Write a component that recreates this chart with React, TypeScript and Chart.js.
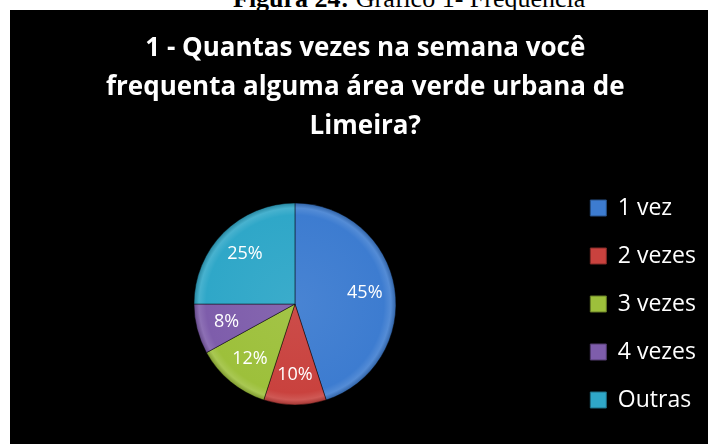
import React, { useEffect, useRef } from "react";
import { Chart, registerables } from "chart.js";

Chart.register(...registerables);

const titleLines = [
  "1 - Quantas vezes na semana você",
  "frequenta alguma área verde urbana de",
  "Limeira?",
];
const categories = ["1 vez", "2 vezes", "3 vezes", "4 vezes", "Outras"];
const values = [45, 10, 12, 8, 25];
const colors = ["#3d7cd0", "#c9423e", "#9dc03b", "#7e5dab", "#2fa7c8"];

function shade(hex: string, amt: number) {
  const n = parseInt(hex.slice(1), 16);
  let r = (n >> 16) & 255, g = (n >> 8) & 255, b = n & 255;
  const t = amt < 0 ? 0 : 255;
  const p = Math.abs(amt);
  r = Math.round(r + (t - r) * p);
  g = Math.round(g + (t - g) * p);
  b = Math.round(b + (t - b) * p);
  return `rgb(${r},${g},${b})`;
}

const pieLabels = {
  id: "pieLabels",
  afterDatasetsDraw(chart: any) {
    const ctx = chart.ctx;
    const meta = chart.getDatasetMeta(0);
    const data = chart.data.datasets[0].data as number[];
    const total = data.reduce((a, b) => a + b, 0);
    ctx.save();
    ctx.fillStyle = "#ffffff";
    ctx.font = "18px 'Open Sans'";
    ctx.textAlign = "center";
    ctx.textBaseline = "middle";
    meta.data.forEach((arc: any, i: number) => {
      const { x, y, startAngle, endAngle, outerRadius } = arc.getProps(
        ["x", "y", "startAngle", "endAngle", "outerRadius"],
        true
      );
      const mid = (startAngle + endAngle) / 2;
      const r = outerRadius * 0.7;
      const pct = Math.round((data[i] / total) * 100) + "%";
      ctx.fillText(pct, x + Math.cos(mid) * r, y + Math.sin(mid) * r);
    });
    ctx.restore();
  },
};

export default function App() {
  const ref = useRef<HTMLCanvasElement | null>(null);
  useEffect(() => {
    if (!ref.current) return;
    const chart = new Chart(ref.current, {
      type: "pie",
      data: {
        labels: categories,
        datasets: [
          {
            data: values,
            radius: 101,
            backgroundColor: (c: any) => {
              const base = colors[c.dataIndex % colors.length];
              const area = c.chart.chartArea;
              if (!area) return base;
              const cx = (area.left + area.right) / 2;
              const cy = (area.top + area.bottom) / 2;
              const g = c.chart.ctx.createRadialGradient(cx, cy, 0, cx, cy, 101);
              g.addColorStop(0, shade(base, 0.06));
              g.addColorStop(0.88, base);
              g.addColorStop(0.95, shade(base, 0.12));
              g.addColorStop(1, shade(base, -0.2));
              return g;
            },
            borderColor: "rgba(0,0,0,0.45)",
            borderWidth: 1,
          } as any,
        ],
      },
      options: {
        responsive: false,
        animation: false,
        devicePixelRatio: 1,
        layout: { padding: { left: 14.6, right: 2, top: 0, bottom: 0 } },
        plugins: {
          title: {
            display: true,
            text: titleLines,
            color: "#ffffff",
            font: { family: "'Open Sans'", size: 26, weight: "bold", lineHeight: 1.5 },
            padding: { top: 19, bottom: 18 },
          },
          legend: {
            position: "right",
            fullSize: false,
            labels: {
              color: "#ffffff",
              font: { family: "'Open Sans'", size: 23 },
              boxWidth: 16,
              boxHeight: 16,
              padding: 25,
              generateLabels: () =>
                categories.map((t, i) => ({
                  text: t,
                  fillStyle: colors[i],
                  strokeStyle: shade(colors[i], -0.35),
                  lineWidth: 1,
                  hidden: false,
                  index: i,
                  fontColor: "#ffffff",
                })),
            },
          },
          tooltip: { enabled: false },
        },
      },
      plugins: [pieLabels],
    });
    return () => chart.destroy();
  }, []);

  return (
    <div
      style={{
        position: "absolute",
        left: 0,
        top: 0,
        width: 708,
        height: 444,
        background: "#ffffff",
        overflow: "hidden",
      }}
    >
      <div
        style={{
          position: "absolute",
          left: 233,
          top: -14,
          whiteSpace: "nowrap",
          fontFamily: "'Liberation Serif', serif",
          fontSize: 26,
          lineHeight: "26px",
          color: "#000",
        }}
      >
        <b>Figura 24:</b> Gráfico 1- Frequência
      </div>
      <canvas
        ref={ref}
        width={698}
        height={434}
        style={{
          position: "absolute",
          left: 10,
          top: 10,
          width: 698,
          height: 434,
          background: "#000000",
          display: "block",
        }}
      />
    </div>
  );
}
